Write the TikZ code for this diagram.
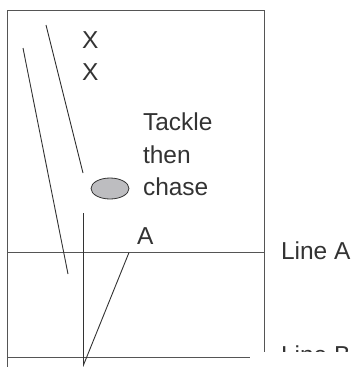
\documentclass[tikz,border=0pt]{standalone}
\usepackage{fontspec}
\setmainfont{Liberation Sans}
\usetikzlibrary{shapes.geometric}
\definecolor{ink}{HTML}{333333}
\definecolor{boxc}{HTML}{555555}
\definecolor{ballfill}{HTML}{BDBDC0}
\begin{document}
\begin{tikzpicture}[x=1pt,y=-1pt,
  lbl/.style={anchor=base west,inner sep=0pt,outer sep=0pt,text=ink,font=\fontsize{24.5}{26}\selectfont},
  thin line/.style={draw=ink,line width=0.9pt},
  box line/.style={draw=boxc,line width=1.1pt}]
\useasboundingbox (0,0) rectangle (355,367);
% field box and lines
\coordinate (tl) at (7.5,10.5);
\coordinate (tr) at (264.5,10.5);
\coordinate (bl) at (7.5,367);
\coordinate (br) at (264.5,367);
\coordinate (la-l) at (7.5,252.5);
\coordinate (la-r) at (264.5,252.5);
\coordinate (lb-l) at (7.5,357.5);
\coordinate (lb-r) at (264.5,357.5);
\draw[box line] (bl) -- (tl) -- (tr) -- (br);
\draw[box line] (la-l) -- (la-r);
\draw[box line] (lb-l) -- (lb-r);
% player paths
\coordinate (p1a) at (23,48);
\coordinate (p1b) at (68,274);
\coordinate (p2a) at (46,25);
\coordinate (p2b) at (83,173);
\coordinate (va) at (83.5,213);
\coordinate (vb) at (83.5,365);
\coordinate (da) at (129,252.5);
\draw[thin line] (p1a) -- (p1b);
\draw[thin line] (p2a) -- (p2b);
\draw[thin line] (va) -- (vb) -- (da);
% ball
\node[ellipse,draw=ink,fill=ballfill,line width=0.8pt,minimum width=38pt,minimum height=21pt,inner sep=0pt] (ball) at (110,188.5) {};
% labels
\node[lbl] (x1) at (82,48) {X};
\node[lbl] (x2) at (82,80) {X};
\node[lbl] (t1) at (143,130) {Tackle};
\node[lbl] (t2) at (143,163) {then};
\node[lbl] (t3) at (143,195.5) {chase};
\node[lbl] (a) at (137,244) {A};
\node[lbl] (linea) at (281,259) {Line A};
\node[lbl] (lineb) at (281,363) {Line B};
% white cover at lower right
\fill[white] (250,352) rectangle (356,368);
\end{tikzpicture}
\end{document}
